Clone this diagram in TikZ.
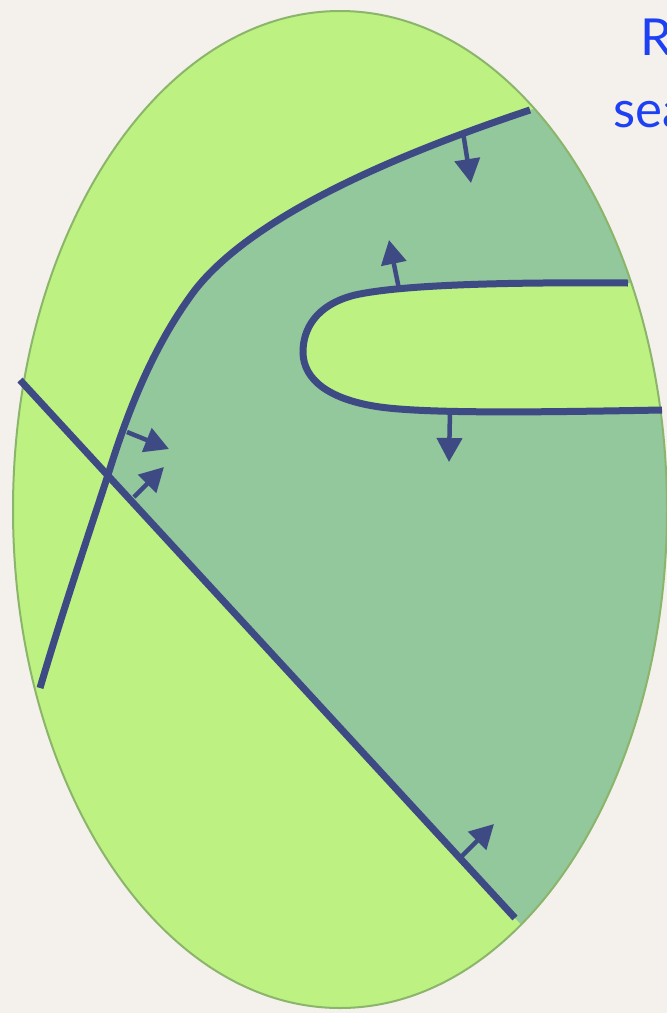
\documentclass[tikz,border=0pt]{standalone}
\usepackage{fontspec}
\setmainfont{Lato}
\usetikzlibrary{arrows.meta}
\definecolor{bgc}{HTML}{F4F1EC}
\definecolor{lightg}{HTML}{BDF282}
\definecolor{darkg}{HTML}{93C79C}
\definecolor{rimg}{HTML}{8BB56A}
\definecolor{navy}{HTML}{3D4A84}
\definecolor{txtblue}{HTML}{1E40F5}
\begin{document}
\begin{tikzpicture}[x=1pt,y=-1pt,
  boundary/.style={draw=navy, line width=7pt, line cap=butt},
  normalarrow/.style={draw=navy, line width=4.5pt, -{Triangle[length=24pt,width=25pt]}},
  headline/.style={anchor=base west, inner sep=0pt, text=txtblue, font=\fontsize{51}{51}\selectfont}]
\useasboundingbox (0,0) rectangle (667,1013);
\fill[bgc] (0,0) rectangle (667,1013);
% ellipse
\fill[lightg] (340,509.5) ellipse [x radius=327, y radius=498.5];
\begin{scope}
  \clip (340,509.5) ellipse [x radius=327, y radius=498.5];
  \clip (-128.5,218.6) -- (663.5,1079.4) -- (900,1079) -- (900,-100) -- (-128.5,-100) -- cycle;
  \fill[darkg] (680,60) -- (530,110) .. controls (380,160) and (250,220) .. (195,290)
     .. controls (150,350) and (125,420) .. (107,478)
     .. controls (85,545) and (60,620) .. (40,688) -- (20,760) -- (20,1100) -- (900,1100) -- (900,60) -- cycle;
\end{scope}
\begin{scope}
  \clip (340,509.5) ellipse [x radius=327, y radius=498.5];
  \fill[lightg] (720,283) -- (628,283) .. controls (500,282) and (400,285) .. (355,295)
     .. controls (315,305) and (303,330) .. (303,352)
     .. controls (303,380) and (330,400) .. (380,407)
     .. controls (430,414) and (550,412) .. (662,410) -- (720,410) -- cycle;
\end{scope}
\draw[rimg, line width=2pt] (340,509.5) ellipse [x radius=327, y radius=498.5];
% boundaries
\coordinate (m0) at (530,110);
\coordinate (m3) at (40,688);
\draw[boundary] (m0) .. controls (380,160) and (250,220) .. (195,290)
     .. controls (150,350) and (125,420) .. (107,478)
     .. controls (85,545) and (60,620) .. (m3);
\coordinate (u0) at (628,283);
\coordinate (u1) at (662,410);
\draw[boundary] (u0) .. controls (500,282) and (400,285) .. (355,295)
     .. controls (315,305) and (303,330) .. (303,352)
     .. controls (303,380) and (330,400) .. (380,407)
     .. controls (430,414) and (550,412) .. (u1);
\coordinate (d0) at (20,380);
\coordinate (d1) at (515,918);
\draw[boundary] (d0) -- (d1);
% normal arrows
\coordinate (a1s) at (463,132); \coordinate (a1e) at (471,183);
\coordinate (a2s) at (399,289); \coordinate (a2e) at (389,240);
\coordinate (a3s) at (450,411); \coordinate (a3e) at (449,462);
\coordinate (a4s) at (127,432); \coordinate (a4e) at (169,449);
\coordinate (a5s) at (134,497); \coordinate (a5e) at (164,467);
\coordinate (a6s) at (461,857); \coordinate (a6e) at (494,824);
\draw[normalarrow] (a1s) -- (a1e);
\draw[normalarrow] (a2s) -- (a2e);
\draw[normalarrow] (a3s) -- (a3e);
\draw[normalarrow] (a4s) -- (a4e);
\draw[normalarrow] (a5s) -- (a5e);
\draw[normalarrow] (a6s) -- (a6e);
% text
\node[headline] (t1) at (640,55) {R};
\node[headline] (t2) at (613,127) {sea};
\end{tikzpicture}
\end{document}
